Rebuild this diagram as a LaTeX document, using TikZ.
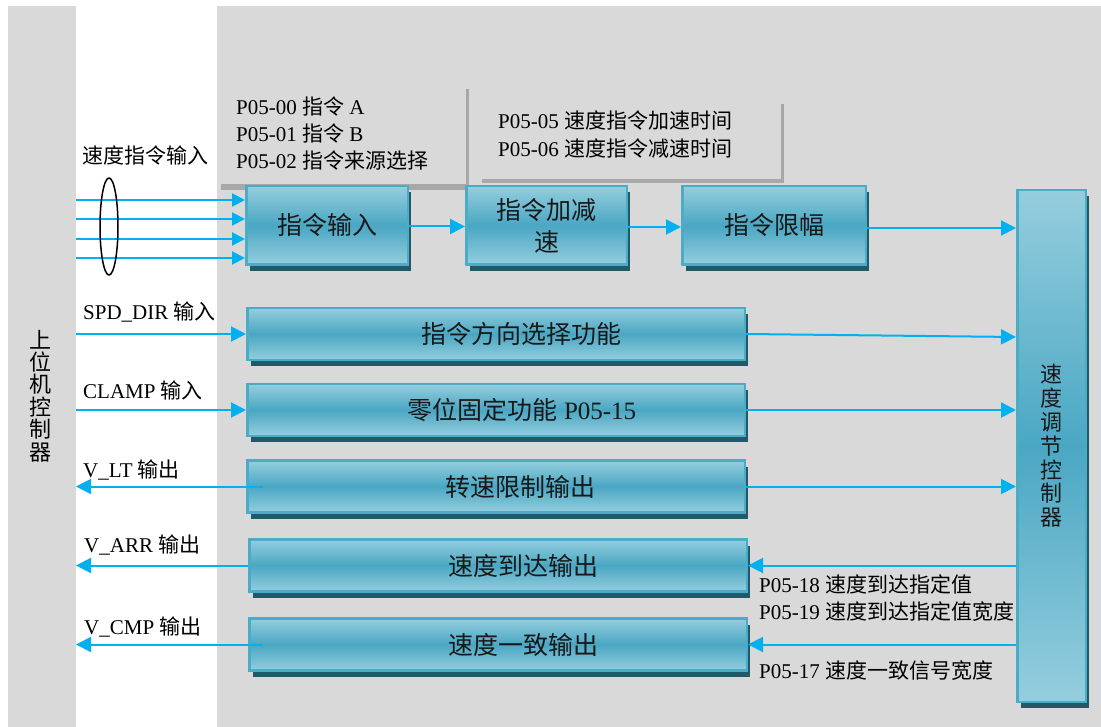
\documentclass[tikz,border=0pt]{standalone}
\usepackage{fontspec}
\setmainfont{Liberation Serif}
\newfontfamily\cjk{Noto Sans CJK SC}
\usetikzlibrary{arrows.meta,shadows,shapes.geometric}
\definecolor{bgc}{HTML}{D9D9D9}
\definecolor{bordc}{HTML}{4BACC6}
\definecolor{lightc}{HTML}{95CEDE}
\definecolor{midc}{HTML}{4AA7C3}
\definecolor{shadc}{HTML}{215968}
\definecolor{arrc}{HTML}{00B0F0}
\definecolor{pshadc}{HTML}{A8A8A8}
\begin{document}
\begin{tikzpicture}[x=1pt,y=-1pt,
  blk/.style={draw=bordc, line width=2.5pt, top color=lightc, bottom color=lightc, middle color=midc,
    drop shadow={shadow xshift=3.5pt, shadow yshift=-6pt, fill=shadc, opacity=1},
    inner sep=0pt, text=black!90, font={\cjk\fontsize{25}{32}\selectfont}, align=center},
  wide/.style={blk, minimum width=497.5pt, minimum height=52pt},
  boxtxt/.style={inner sep=0pt, text=black!90, font=\fontsize{25}{32}\selectfont},
  lab/.style={anchor=west, inner sep=0pt, font=\fontsize{21}{27}\selectfont, text height=15.5pt, text depth=1.5pt},
  arr/.style={draw=arrc, line width=2pt, -{Triangle[length=15pt,width=15pt]}},
  inarr/.style={draw=arrc, line width=2pt, -{Triangle[length=13pt,width=13pt]}},
  vtxt/.style={align=center, inner sep=0pt, font={\cjk\fontsize{22}{22.4}\selectfont}}
]
% background
\useasboundingbox (0,0) rectangle (1101,727);
\fill[white] (0,0) rectangle (1101,727);
\fill[bgc] (8,6) rectangle (76,727);
\fill[bgc] (217,6) rectangle (1101,727);

% parameter box shadows
\fill[pshadc] (221,184) rectangle (469,190);
\fill[pshadc] (466,89) rectangle (469,190);
\fill[pshadc] (482,179) rectangle (784,183);
\fill[pshadc] (781,104) rectangle (784,183);

% blocks
\node[blk, minimum width=161.5pt, minimum height=78.5pt] (in) at (327,225.5) {指令输入};
\node[blk, minimum width=160.5pt, minimum height=78.5pt] (acc) at (546.5,225.5) {指令加减\\速};
\node[blk, minimum width=183.5pt, minimum height=78.5pt] (lim) at (774,225.5) {指令限幅};
\node[blk, minimum width=68.5pt, minimum height=511.5pt, font={\cjk\fontsize{22}{23.8}\selectfont}] (ctrl) at (1051.5,446) {速\\度\\调\\节\\控\\制\\器};
\node[wide] (dir) at (496,334) {};
\node[wide] (clamp) at (496,410) {};
\node[wide] (vlt) at (496,486.5) {};
\node[wide] (varr) at (498,565.5) {};
\node[wide] (vcmp) at (498,644.5) {};
\node[boxtxt] (dirT) at ([xshift=25pt]dir.center) {\cjk 指令方向选择功能};
\node[boxtxt] (clampT) at ([xshift=26pt]clamp.center) {{\cjk 零位固定功能} P05-15};
\node[boxtxt] (vltT) at ([xshift=24pt]vlt.center) {\cjk 转速限制输出};
\node[boxtxt] (varrT) at ([xshift=25pt]varr.center) {\cjk 速度到达输出};
\node[boxtxt] (vcmpT) at ([xshift=25pt]vcmp.center) {\cjk 速度一致输出};

\node[vtxt] (host) at (41,396) {上\\位\\机\\控\\制\\器};

% input lines
\coordinate (i1) at (76,200);
\coordinate (i2) at (76,219);
\coordinate (i3) at (76,239);
\coordinate (i4) at (76,258);
\foreach \c in {i1,i2,i3,i4} \draw[inarr] (\c) -- (\c -| in.west);
\node[ellipse, draw=black, line width=1.5pt, minimum width=18pt, minimum height=97pt, inner sep=0pt] (bundle) at (109,226.5) {};

% chain
\draw[arr] ([yshift=-1pt]in.east) -- ([yshift=-1pt]acc.west);
\draw[arr] ([yshift=-1.5pt]acc.east) -- ([yshift=-1.5pt]lim.west);
\draw[arr] ([yshift=-2.5pt]lim.east) -- ([yshift=-2.5pt]lim.east -| ctrl.west);
\draw[arr] (dir.east) -- ([yshift=-3pt]dir.east -| ctrl.west);
\draw[arr] (clamp.east) -- (clamp.east -| ctrl.west);
\draw[arr] (vlt.east) -- (vlt.east -| ctrl.west);
\draw[arr] (varr.east -| ctrl.west) -- (varr.east);
\draw[arr] (vcmp.east -| ctrl.west) -- (vcmp.east);

% host side
\coordinate (s1) at (76,334);
\coordinate (s2) at (76,410);
\coordinate (o1) at (76,486.5);
\coordinate (o2) at (76,565.5);
\coordinate (o3) at (76,644.5);
\draw[arr] (s1) -- (dir.west);
\draw[arr] (s2) -- (clamp.west);
\draw[arr] ([xshift=17pt]vlt.west) -- (o1);
\draw[arr] (varr.west) -- (o2);
\draw[arr] ([xshift=15pt]vcmp.west) -- (o3);

% labels
\node[lab] (l0) at (82,157) {\cjk 速度指令输入};
\node[lab] (p00) at (236,108) {P05-00 {\cjk 指令} A};
\node[lab] (p01) at (236,135) {P05-01 {\cjk 指令} B};
\node[lab] (p02) at (236,162) {P05-02 {\cjk 指令来源选择}};
\node[lab] (p05) at (498,122) {P05-05 {\cjk 速度指令加速时间}};
\node[lab] (p06) at (498,150) {P05-06 {\cjk 速度指令减速时间}};
\node[lab] (lsd) at (83,313) {SPD\_DIR {\cjk 输入}};
\node[lab] (lcl) at (83,392) {CLAMP {\cjk 输入}};
\node[lab] (llt) at (83,470) {V\_LT {\cjk 输出}};
\node[lab] (lar) at (84,545) {V\_ARR {\cjk 输出}};
\node[lab] (lcm) at (84,627) {V\_CMP {\cjk 输出}};
\node[lab] (p18) at (759,585) {P05-18 {\cjk 速度到达指定值}};
\node[lab] (p19) at (759,612) {P05-19 {\cjk 速度到达指定值宽度}};
\node[lab] (p17) at (759,671) {P05-17 {\cjk 速度一致信号宽度}};
\end{tikzpicture}
\end{document}
